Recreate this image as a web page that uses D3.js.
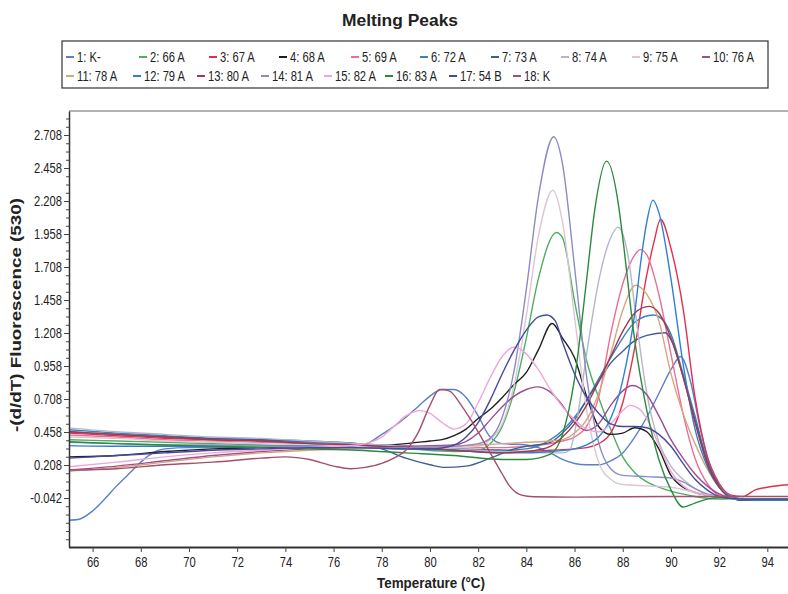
<!DOCTYPE html>
<html><head><meta charset="utf-8">
<script src="https://cdn.jsdelivr.net/npm/d3@7"></script>
<style>
body{margin:0;background:#fff}
text{font-family:"Liberation Sans",Arial,sans-serif;fill:#222}
</style>
</head><body>
<svg id="chart" width="788" height="594"></svg>
<script>
// ---------- DATA ----------
const seriesNames = ["1: K-","2: 66 A","3: 67 A","4: 68 A","5: 69 A","6: 72 A","7: 73 A","8: 74 A","9: 75 A","10: 76 A",
  "11: 78 A","12: 79 A","13: 80 A","14: 81 A","15: 82 A","16: 83 A","17: 54 B","18: K"];
const seriesColors = ["#5b7fc9","#4fae62","#e0304f","#1e1e1e","#ec6f93","#3b82b8","#3e5f94","#b4b7cc","#dcc6d4","#9b4e93",
  "#d7a57f","#2f80d2","#a0384f","#8c8cc4","#f0a6d6","#2b8a3e","#464a9c","#a2506c"];

// [temperature, -(d/dT) fluorescence]
const s01 = [[65,-0.21],[65.4,-0.205],[66,-0.14],[66.5,-0.05],[67,0.05],[67.5,0.14],[68,0.23],[68.5,0.3],[69,0.33],[70,0.34],[72,0.34],[74,0.35],[76,0.34],[77,0.35],[77.5,0.38],[78,0.44],[78.5,0.5],[79,0.57],[79.5,0.65],[80,0.73],[80.5,0.78],[81,0.78],[81.5,0.72],[82,0.58],[82.5,0.42],[83,0.37],[84,0.36],[84.5,0.34],[85,0.3],[85.5,0.25],[86,0.22],[86.5,0.21],[87,0.21],[87.5,0.24],[88,0.3],[88.5,0.42],[89,0.57],[89.5,0.75],[90,0.93],[90.4,1.03],[90.8,0.85],[91.2,0.5],[91.6,0.2],[92,0.05],[92.5,-0.03],[93,-0.06],[94,-0.06],[95,-0.05]];
const s02 = [[65,0.4],[67,0.39],[69,0.38],[71,0.37],[73,0.36],[75,0.35],[77,0.34],[79,0.33],[81,0.31],[82,0.32],[82.5,0.37],[83,0.5],[83.5,0.77],[84,1.17],[84.5,1.62],[85.25,1.97],[85.5,1.93],[86,1.45],[86.5,1.0],[87,0.72],[87.5,0.48],[88,0.27],[88.5,0.15],[89,0.08],[89.5,0.04],[90,0.01],[91,-0.03],[92,-0.05],[95,-0.05]];
const s03 = [[65,0.45],[67,0.43],[69,0.41],[71,0.4],[73,0.39],[75,0.37],[77,0.36],[79,0.35],[81,0.33],[83,0.32],[84,0.31],[85,0.32],[86,0.33],[86.5,0.34],[87,0.37],[87.5,0.45],[88,0.68],[88.5,1.1],[89,1.65],[89.3,1.9],[89.57,2.07],[90,1.85],[90.5,1.4],[91,0.72],[91.5,0.28],[92,0.07],[92.5,-0.02],[93,-0.03],[93.5,0.02],[94,0.04],[95,0.06]];
const s04 = [[65,0.27],[67,0.28],[69,0.31],[71,0.33],[73,0.34],[75,0.35],[77,0.35],[79,0.37],[80,0.39],[80.5,0.4],[81,0.43],[81.5,0.48],[82,0.56],[82.5,0.63],[83,0.72],[83.5,0.82],[84,0.91],[84.5,1.08],[85.07,1.28],[85.5,1.17],[86,1.02],[86.5,0.73],[87,0.5],[87.5,0.44],[88,0.45],[88.5,0.49],[89,0.46],[89.5,0.33],[90,0.13],[90.5,0.04],[91,0.0],[92,-0.03],[93,-0.05],[95,-0.05]];
const s05 = [[65,0.435],[67,0.42],[69,0.4],[71,0.39],[73,0.38],[75,0.37],[77,0.36],[79,0.35],[81,0.34],[83,0.34],[84,0.35],[85,0.37],[85.5,0.39],[86,0.42],[86.5,0.5],[87,0.72],[87.5,1.2],[88,1.58],[88.5,1.8],[88.73,1.84],[89,1.8],[89.5,1.5],[90,1.05],[90.5,0.6],[91,0.26],[91.5,0.07],[92,-0.02],[93,-0.05],[95,-0.05]];
const s06 = [[65,0.475],[67,0.45],[69,0.43],[71,0.41],[73,0.4],[75,0.38],[77,0.37],[79,0.35],[81,0.33],[83,0.32],[84,0.33],[85,0.4],[85.5,0.47],[86,0.57],[86.5,0.7],[87,0.86],[87.5,1.02],[88,1.17],[88.5,1.29],[89.27,1.345],[89.7,1.3],[90,1.2],[90.5,0.9],[91,0.58],[91.5,0.24],[92,0.05],[92.5,-0.04],[93,-0.06],[94,-0.06],[95,-0.06]];
const s07 = [[65,0.46],[67,0.44],[69,0.42],[71,0.41],[73,0.4],[75,0.39],[77,0.37],[78,0.33],[79,0.26],[80,0.21],[80.6,0.19],[81.5,0.2],[82.5,0.26],[83.5,0.33],[84,0.35],[85,0.38],[85.5,0.45],[86,0.55],[86.5,0.7],[87,0.84],[87.5,0.98],[88,1.07],[88.5,1.15],[89,1.19],[89.77,1.21],[90.1,1.12],[90.5,0.88],[91,0.55],[91.5,0.24],[92,0.05],[92.5,-0.04],[93,-0.06],[94,-0.06],[95,-0.06]];
const s08 = [[65,0.49],[67,0.46],[69,0.44],[71,0.42],[73,0.41],[75,0.39],[77,0.37],[79,0.35],[81,0.33],[83,0.31],[85,0.3],[85.5,0.3],[85.8,0.32],[86.1,0.55],[86.5,1.05],[87,1.6],[87.5,1.93],[87.8,2.01],[88,1.96],[88.3,1.7],[88.5,1.4],[89,0.75],[89.5,0.38],[90,0.2],[90.5,0.1],[91,0.03],[92,-0.04],[93,-0.05],[95,-0.05]];
const s09 = [[65,0.42],[67,0.41],[69,0.39],[71,0.38],[73,0.37],[75,0.36],[77,0.35],[79,0.34],[81,0.34],[82,0.35],[82.5,0.4],[83,0.52],[83.5,0.82],[84,1.34],[84.5,1.94],[85.1,2.29],[85.5,2.05],[86,1.33],[86.5,0.63],[87,0.23],[87.5,0.1],[88,0.06],[89,0.05],[90,0.04],[91,0.0],[92,-0.04],[93,-0.05],[95,-0.05]];
const s10 = [[65,0.17],[67,0.2],[69,0.24],[71,0.28],[73,0.31],[75,0.33],[77,0.34],[79,0.35],[81,0.36],[82,0.45],[82.5,0.55],[83,0.65],[83.5,0.73],[84,0.78],[84.45,0.8],[85,0.76],[85.5,0.66],[86,0.53],[86.5,0.47],[87,0.52],[87.5,0.66],[88,0.77],[88.4,0.81],[89,0.74],[89.5,0.58],[90,0.4],[90.5,0.26],[91,0.14],[91.5,0.05],[92,-0.01],[93,-0.05],[95,-0.05]];
const s11 = [[65,0.16],[67,0.19],[69,0.23],[71,0.27],[73,0.3],[75,0.32],[77,0.33],[79,0.34],[81,0.35],[83,0.37],[84,0.38],[85,0.39],[85.5,0.4],[86,0.45],[86.5,0.55],[87,0.75],[87.5,1.05],[88,1.38],[88.53,1.57],[89,1.5],[89.5,1.3],[90,0.9],[90.5,0.6],[91,0.37],[91.5,0.18],[92,0.04],[92.5,-0.03],[93,-0.05],[95,-0.05]];
const s12 = [[65,0.355],[67,0.35],[69,0.35],[71,0.35],[73,0.35],[75,0.35],[77,0.34],[79,0.33],[81,0.32],[83,0.3],[84,0.3],[85,0.31],[86,0.33],[86.5,0.36],[87,0.42],[87.5,0.56],[88,0.85],[88.5,1.36],[88.75,1.75],[89,2.05],[89.25,2.215],[89.5,2.12],[90,1.62],[90.5,0.98],[91,0.48],[91.5,0.2],[92,0.04],[92.5,-0.03],[93,-0.05],[94,-0.06],[95,-0.06]];
const s13 = [[65,0.46],[67,0.44],[69,0.42],[71,0.4],[73,0.39],[75,0.37],[77,0.36],[79,0.34],[81,0.32],[83,0.3],[84,0.31],[85,0.35],[85.5,0.42],[86,0.52],[86.5,0.66],[87,0.84],[87.5,1.03],[88,1.22],[88.5,1.36],[89.1,1.41],[89.5,1.36],[90,1.17],[90.5,0.88],[91,0.53],[91.5,0.22],[92,0.04],[92.5,-0.04],[93,-0.05],[95,-0.05]];
const s14 = [[65,0.38],[67,0.37],[69,0.36],[71,0.36],[73,0.35],[75,0.35],[77,0.34],[79,0.34],[81,0.35],[82,0.37],[82.5,0.41],[83,0.57],[83.5,0.93],[84,1.54],[84.5,2.24],[85.14,2.695],[85.5,2.49],[86,1.71],[86.5,0.88],[87,0.38],[87.5,0.18],[88,0.13],[89,0.12],[90,0.11],[90.5,0.08],[91,0.03],[91.5,-0.01],[92,-0.03],[93,-0.05],[95,-0.05]];
const s15 = [[65,0.195],[67,0.23],[69,0.27],[71,0.3],[73,0.32],[75,0.34],[77,0.36],[77.5,0.38],[78,0.42],[78.5,0.5],[79,0.58],[79.6,0.62],[80,0.6],[80.5,0.53],[81,0.48],[81.5,0.52],[82,0.68],[82.5,0.87],[83,1.03],[83.47,1.1],[84,1.05],[84.5,0.93],[85,0.78],[85.5,0.65],[86,0.55],[86.5,0.48],[87,0.46],[87.5,0.52],[88,0.62],[88.3,0.66],[88.7,0.63],[89,0.56],[89.5,0.36],[90,0.16],[90.5,0.05],[91,0.0],[92,-0.03],[93,-0.05],[95,-0.05]];
const s16 = [[65,0.385],[67,0.37],[69,0.36],[71,0.35],[73,0.34],[75,0.33],[77,0.32],[79,0.3],[81,0.28],[83,0.25],[84,0.25],[85,0.29],[85.5,0.44],[86,0.86],[86.5,1.61],[86.83,2.13],[87.33,2.51],[87.83,2.17],[88,1.93],[88.5,1.15],[89,0.62],[89.5,0.25],[90,0.02],[90.5,-0.11],[91,-0.08],[91.5,-0.05],[92,-0.04],[93,-0.05],[95,-0.05]];
const s17 = [[65,0.26],[67,0.28],[69,0.3],[71,0.32],[73,0.33],[75,0.34],[77,0.34],[79,0.33],[80,0.33],[81,0.36],[81.5,0.42],[82,0.53],[82.5,0.7],[83,0.9],[83.5,1.08],[84,1.23],[84.5,1.33],[84.85,1.345],[85.2,1.3],[85.5,1.14],[86,0.9],[86.5,0.72],[87,0.6],[87.5,0.52],[88,0.5],[88.5,0.5],[89,0.49],[89.5,0.44],[90,0.35],[90.5,0.22],[91,0.1],[91.5,0.02],[92,-0.03],[93,-0.05],[95,-0.05]];
const s18 = [[65,0.17],[67,0.18],[69,0.21],[71,0.23],[73,0.26],[74,0.27],[75,0.25],[76,0.2],[76.7,0.18],[77.3,0.19],[78,0.22],[78.5,0.26],[79,0.32],[79.5,0.45],[80,0.66],[80.4,0.78],[80.8,0.77],[81.3,0.66],[81.8,0.52],[82.5,0.3],[83,0.14],[83.3,0.05],[83.8,-0.02],[84.3,-0.032],[86,-0.035],[90,-0.03],[95,-0.03]];
const seriesData = [s01,s02,s03,s04,s05,s06,s07,s08,s09,s10,s11,s12,s13,s14,s15,s16,s17,s18];

const yTickValues = [-0.042,0.208,0.458,0.708,0.958,1.208,1.458,1.708,1.958,2.208,2.458,2.708];
const yTickLabels = ["-0.042","0.208","0.458","0.708","0.958","1.208","1.458","1.708","1.958","2.208","2.458","2.708"];
const xTickValues = [66,68,70,72,74,76,78,80,82,84,86,88,90,92,94];

const titleText = "Melting Peaks";
const xLabelText = "Temperature (\u00B0C)";
const yLabelText = "-(d/dT) Fluorescence (530)";

// ---------- LAYOUT ----------
const svg = d3.select("#chart");
const plot = {left:69, top:111, right:790, bottom:547};
const x = d3.scaleLinear().domain([65, 94.9]).range([68.5, 789]);
const y = d3.scaleLinear().domain([-0.413, 2.89]).range([plot.bottom, plot.top]);
const squeeze = 0.8;

// title
svg.append("text").attr("x",400).attr("y",26).attr("text-anchor","middle")
  .attr("font-size",16).attr("font-weight","bold").attr("textLength",116).attr("lengthAdjust","spacingAndGlyphs")
  .text(titleText);

// legend
const legendRow1X = [66,139,209,279,351,420,491,561,632,702];
const legendRow2X = [66,133,197,261,324,385,449,513];
svg.append("rect").attr("x",62).attr("y",41).attr("width",706).attr("height",47)
  .attr("fill","none").attr("stroke","#333").attr("stroke-width",1.2);
seriesNames.forEach((name,i)=>{
  const row = i<10?0:1;
  const lx = row===0? legendRow1X[i] : legendRow2X[i-10];
  const ly = row===0? 57 : 76;
  const g = svg.append("g");
  g.append("line").attr("x1",lx).attr("x2",lx+8).attr("y1",ly).attr("y2",ly)
    .attr("stroke",seriesColors[i]).attr("stroke-width",2);
  g.append("text").attr("transform",`translate(${lx+11},${ly+4.5}) scale(${squeeze},1)`)
    .attr("font-size",14).text(name);
});

// clip
svg.append("clipPath").attr("id","clip").append("rect")
  .attr("x",plot.left).attr("y",plot.top).attr("width",plot.right-plot.left).attr("height",plot.bottom-plot.top);

// lines
const line = d3.line().x(d=>x(d[0])).y(d=>y(d[1])).curve(d3.curveMonotoneX);
const lg = svg.append("g").attr("clip-path","url(#clip)");
seriesData.forEach((s,i)=>{
  lg.append("path").datum(s).attr("d",line).attr("fill","none")
    .attr("stroke",seriesColors[i]).attr("stroke-width",1.4).attr("stroke-linejoin","round");
});

// frame top
svg.append("line").attr("x1",plot.left).attr("x2",788).attr("y1",plot.top).attr("y2",plot.top)
  .attr("stroke","#666").attr("stroke-width",1);

// y axis minor ticks
const minor = [];
for (let v=-0.042-0.0625*5; v<2.89; v+=0.0625) minor.push(v);
const yMinor = svg.append("g").attr("transform",`translate(${plot.left},0)`)
  .call(d3.axisLeft(y).tickValues(minor.filter(v=>v>-0.413)).tickSize(3).tickFormat(""));
yMinor.select(".domain").remove();
yMinor.selectAll("line").attr("stroke","#444");

// y axis
const yAxis = svg.append("g").attr("transform",`translate(${plot.left},0)`)
  .call(d3.axisLeft(y).tickValues(yTickValues).tickFormat((d,i)=>yTickLabels[i]).tickSize(5).tickSizeOuter(0).tickPadding(2));
yAxis.select(".domain").attr("stroke","#333").attr("stroke-width",1.5);
yAxis.selectAll("line").attr("stroke","#444");
yAxis.selectAll("text").attr("font-size",14).attr("fill","#333")
  .attr("font-family",'"Liberation Sans",Arial,sans-serif')
  .attr("transform",`scale(${squeeze},1)`).attr("x",-7/squeeze);

// x axis
const xAxis = svg.append("g").attr("transform",`translate(0,${plot.bottom})`)
  .call(d3.axisBottom(x).tickValues(xTickValues).tickFormat(d3.format("d")).tickSize(5).tickSizeOuter(0).tickPadding(5));
xAxis.select(".domain").attr("stroke","#333").attr("stroke-width",2);
xAxis.selectAll("line").attr("stroke","#444");
xAxis.selectAll("text").attr("font-size",14).attr("fill","#333")
  .attr("font-family",'"Liberation Sans",Arial,sans-serif')
  .attr("transform",`scale(${squeeze},1)`);

// axis labels
svg.append("text").attr("x",431).attr("y",588).attr("text-anchor","middle")
  .attr("font-size",14).attr("font-weight","bold").attr("textLength",108).attr("lengthAdjust","spacingAndGlyphs")
  .text(xLabelText);
svg.append("text").attr("transform","translate(21,315) rotate(-90)").attr("text-anchor","middle")
  .attr("font-size",14).attr("font-weight","bold").attr("textLength",234).attr("lengthAdjust","spacingAndGlyphs")
  .text(yLabelText);
</script>
</body></html>
